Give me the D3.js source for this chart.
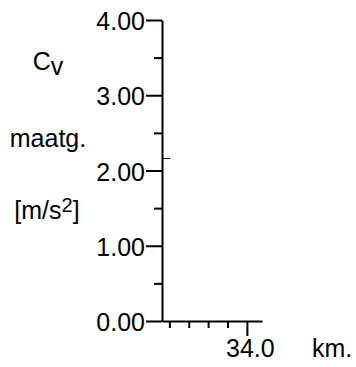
<!DOCTYPE html>
<html><head><meta charset="utf-8">
<script src="https://cdn.jsdelivr.net/npm/d3@7"></script>
<style>
html,body{margin:0;padding:0;background:#fff;}
svg{display:block;}
text{font-family:"Liberation Sans",Arial,sans-serif;fill:#000;}
</style></head>
<body>
<svg id="chart" width="356" height="367"></svg>
<script>
// ---- data ----
const yMajorTicks = [0, 1, 2, 3, 4];
const yMinorTicks = [0.5, 1.5, 2.5, 3.5];
const xMinorTicks = [30, 31, 32, 33];
const xMajorTicks = [34];
const xDomain = [29.62, 34.78];
const yDomain = [0, 4];
const seriesX = [29.62, 30.05];
const seriesY = [2.16, 2.16];
const yLabelLines = ["maatg.", "[m/s", "]"];

(function(){
const svg = d3.select("#chart");
const FS = 25;
const mLeft = 162, mRight = 262, mTop = 20, mBottom = 321;
const x = d3.scaleLinear().domain(xDomain).range([mLeft, mRight]);
const y = d3.scaleLinear().domain(yDomain).range([mBottom, mTop]);

// Y axis major
const yAx = svg.append("g").attr("transform", `translate(${mLeft},0)`)
  .call(d3.axisLeft(y).tickValues(yMajorTicks).tickSize(16).tickPadding(1)
    .tickFormat(d3.format(".2f")).tickSizeOuter(0));
yAx.select(".domain").attr("stroke", "#000").attr("stroke-width", 2);
yAx.selectAll(".tick line").attr("stroke", "#000").attr("stroke-width", 2);
yAx.selectAll(".tick text").attr("font-size", FS).attr("fill", "#000").attr("dy", "0.38em")
  .attr("font-family", "Liberation Sans, Arial, sans-serif");

// Y minor
const yMin = svg.append("g").attr("transform", `translate(${mLeft},0)`)
  .call(d3.axisLeft(y).tickValues(yMinorTicks).tickSize(8).tickFormat("").tickSizeOuter(0));
yMin.select(".domain").remove();
yMin.selectAll(".tick line").attr("stroke", "#000").attr("stroke-width", 2);

// X axis minor
const xMin = svg.append("g").attr("transform", `translate(0,${mBottom})`)
  .call(d3.axisBottom(x).tickValues(xMinorTicks).tickSize(7).tickFormat("").tickSizeOuter(0));
xMin.select(".domain").attr("stroke", "#000").attr("stroke-width", 2);
xMin.selectAll(".tick line").attr("stroke", "#000").attr("stroke-width", 2);

// X axis major
const xMaj = svg.append("g").attr("transform", `translate(0,${mBottom})`)
  .call(d3.axisBottom(x).tickValues(xMajorTicks).tickSize(15).tickPadding(3)
    .tickFormat(d3.format(".1f")).tickSizeOuter(0));
xMaj.select(".domain").remove();
xMaj.selectAll(".tick line").attr("stroke", "#000").attr("stroke-width", 2);
xMaj.selectAll(".tick text").attr("font-size", FS).attr("fill", "#000")
  .attr("font-family", "Liberation Sans, Arial, sans-serif").attr("dx", 3);

// series
svg.append("path")
  .attr("d", d3.line().x((d,i)=>x(seriesX[i])).y((d,i)=>y(seriesY[i]))(seriesX))
  .attr("fill", "none").attr("stroke", "#000").attr("stroke-width", 1);

// y label
const cv = svg.append("text").attr("x", 48).attr("y", 70).attr("text-anchor", "middle").attr("font-size", FS);
cv.append("tspan").text("C");
cv.append("tspan").attr("dy", 5).text("v");

svg.append("text").attr("x", 48).attr("y", 147).attr("text-anchor", "middle").attr("font-size", FS).text(yLabelLines[0]);

const unit = svg.append("text").attr("x", 47).attr("y", 219).attr("text-anchor", "middle").attr("font-size", FS);
unit.append("tspan").text(yLabelLines[1]);
unit.append("tspan").attr("dy", -7).attr("font-size", 20).text("2");
unit.append("tspan").attr("dy", 7).text(yLabelLines[2]);

// x unit
svg.append("text").attr("x", 312).attr("y", 357).attr("font-size", FS).text("km.");
})();
</script>
</body></html>
